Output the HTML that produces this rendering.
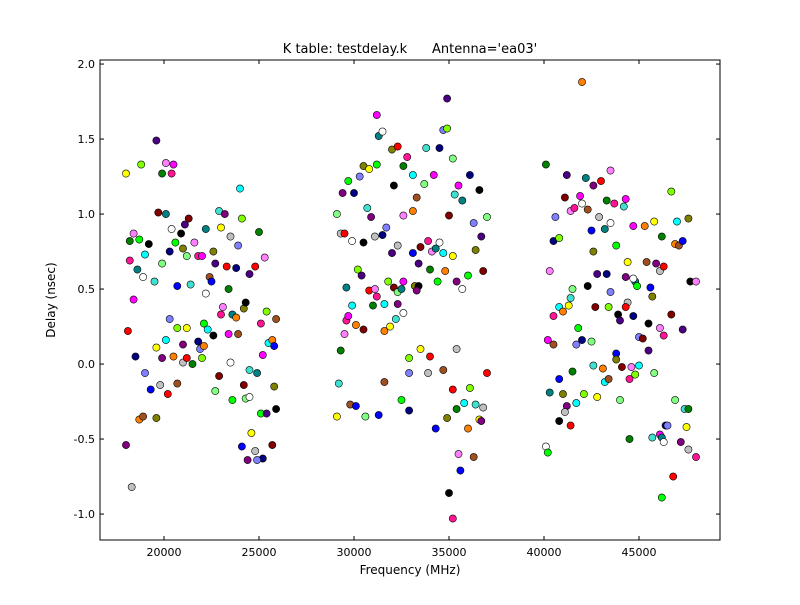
<!DOCTYPE html>
<html><head><meta charset="utf-8"><style>
body{margin:0;background:#fff;}
svg text{font-family:"DejaVu Sans","Liberation Sans",sans-serif;}
</style></head><body>
<svg id="chart" width="800" height="600" xmlns="http://www.w3.org/2000/svg">
<rect width="800" height="600" fill="#fff"/>
<text x="410" y="53" font-size="13" text-anchor="middle" xml:space="preserve">K table: testdelay.k      Antenna='ea03'</text>
<text x="410" y="574" font-size="12" text-anchor="middle">Frequency (MHz)</text>
<text x="55" y="300" font-size="12" text-anchor="middle" transform="rotate(-90 55 300)">Delay (nsec)</text>
<g id="points"></g>
<g id="axes"></g>
</svg>
<script>
const xTicks=[20000,25000,30000,35000,40000,45000];
const yTicks=[-1.0,-0.5,0.0,0.5,1.0,1.5,2.0];
const freqs=[18000,18000,18300,18100,18200,18400,18200,18400,18600,18900,18700,18500,19000,18800,19000,18700,18900,19300,19600,19200,19600,19700,19900,19500,19600,19900,19800,20200,19900,20100,20400,20500,20100,20400,20600,20300,20300,20700,20100,20500,20700,20700,21000,20900,21100,21300,21200,21400,21200,21000,21000,21200,21500,21600,21800,22000,22200,22200,22100,21800,21900,22000,22300,22100,22400,22500,22600,22600,22700,22900,22700,22900,23000,23200,23500,23300,23400,23100,23000,23400,23600,23500,23600,23800,23900,24100,24000,23800,23900,24100,24200,24300,24500,24200,24300,24500,24600,24400,24800,24800,25000,25300,25100,25200,24900,24500,25100,25200,24900,25400,25500,25700,25900,25800,25800,25900,25400,25700,
29100,29200,29100,29400,29300,29500,29300,29500,29600,29700,29600,29900,29700,30000,30300,30200,29900,30100,29800,30100,30500,30500,30400,30500,30600,30700,30800,30900,31100,30800,31000,31100,31200,31200,31300,31500,31200,31500,31700,31800,31600,31600,31600,31300,32000,32100,32000,32100,32300,32200,31900,32300,32300,32300,32600,32600,32800,32600,32500,32600,32500,32900,32900,32900,33100,33100,33300,33100,33200,33400,33400,33500,33700,33800,33500,33300,33900,34000,34000,34100,33900,34200,34300,34500,34400,34500,34700,34900,34700,34800,34700,34300,34900,35000,34900,35000,35200,35300,35200,35400,35400,35200,35400,35500,35200,35500,35700,35700,36000,36100,36300,36100,35800,36000,36300,35600,36400,36600,36700,36800,37000,36400,36600,36700,36800,37000,
40100,40300,40500,40200,40300,40100,40200,40500,40600,40800,40800,41000,40500,40800,41000,40800,41200,41100,41500,41400,41300,41200,41100,41400,41500,41400,41600,41900,42200,42000,41800,42000,41700,42100,41700,42000,42300,42500,42600,42300,42800,42700,42500,42600,42800,42600,42900,43000,43300,43500,43700,44300,43200,43500,43800,43300,43500,43400,43200,43100,43400,43800,43800,43900,44000,44100,44000,44200,44400,44300,44400,44300,44500,44600,44500,44700,44800,44700,44900,44700,45000,44800,45000,45300,45400,45600,45700,45500,45500,45200,45800,45700,45800,45900,46100,46300,46200,46100,46300,46100,46200,46300,46200,46400,46500,46700,47000,46900,47100,47300,47600,47700,47300,46700,46900,47400,47500,47200,47600,46800,47600,48000,48000];
const delays=[1.27,-0.54,-0.82,0.22,0.82,0.87,0.69,0.43,0.63,0.58,0.83,0.05,-0.06,1.33,0.73,-0.37,-0.35,-0.17,-0.36,0.80,1.49,1.01,0.67,0.55,0.11,0.04,-0.14,-0.20,1.27,1.34,1.27,1.33,1.00,0.90,0.81,0.75,0.30,0.24,0.16,0.05,-0.13,0.52,0.77,0.87,0.93,0.97,0.72,0.53,0.24,0.13,0.01,0.04,0.00,0.81,0.72,0.72,0.90,0.47,0.27,0.15,0.10,0.04,0.23,0.12,0.58,0.55,0.75,0.19,0.67,-0.08,-0.18,1.02,0.91,1.00,0.85,0.65,0.50,0.38,0.33,0.20,0.33,0.01,-0.24,0.64,0.79,0.97,1.17,0.31,0.20,-0.55,0.37,0.41,0.60,-0.14,-0.23,-0.04,-0.46,-0.64,-0.58,0.65,0.88,0.71,0.27,0.06,-0.06,-0.22,-0.33,-0.63,-0.64,0.35,0.14,0.16,0.30,0.12,-0.15,-0.30,-0.33,-0.54,
1.00,-0.13,-0.35,1.14,0.87,0.87,0.09,0.20,0.29,0.32,0.51,0.82,1.22,1.14,1.25,0.63,0.39,0.26,-0.27,-0.28,1.32,0.81,0.59,0.23,-0.35,1.04,1.30,0.98,0.85,0.49,0.39,0.50,0.45,1.66,1.52,1.55,1.33,0.86,0.91,0.55,0.40,0.22,-0.12,-0.34,1.43,1.19,0.74,0.51,0.48,0.30,0.25,0.40,0.79,1.45,1.32,0.99,1.38,0.55,0.50,0.34,-0.24,-0.31,-0.06,0.04,1.26,1.02,1.11,0.74,0.52,0.52,0.67,0.78,1.20,1.44,0.10,0.49,-0.06,0.05,0.63,0.75,0.82,1.26,0.77,0.81,0.55,1.44,1.56,1.57,0.74,0.62,-0.04,-0.43,-0.36,-0.86,1.77,0.99,1.37,1.13,0.72,0.55,0.10,-0.17,-0.30,-0.60,-1.03,1.19,1.09,0.50,0.59,1.26,0.94,-0.16,-0.26,-0.43,-0.62,-0.71,0.76,1.16,0.85,0.62,0.98,-0.27,-0.37,-0.38,-0.29,-0.06,
1.33,0.62,0.32,0.16,-0.19,-0.55,-0.59,0.82,0.98,0.84,0.38,0.35,0.13,-0.10,-0.20,-0.38,1.26,1.11,0.50,0.44,0.39,-0.28,-0.32,-0.41,-0.05,1.02,1.04,1.12,1.24,1.07,0.24,0.16,0.13,-0.20,-0.26,1.88,1.03,0.89,0.75,0.52,0.60,0.38,0.15,-0.01,-0.22,1.19,0.98,1.22,1.09,1.29,1.07,1.10,0.90,0.94,0.79,0.60,0.48,0.38,-0.12,-0.03,-0.10,0.07,0.03,0.33,0.29,-0.02,-0.24,1.05,0.68,0.58,0.41,0.38,-0.50,-0.02,-0.10,0.92,0.55,0.57,0.52,0.32,0.18,-0.07,-0.01,0.92,0.68,0.51,0.45,0.27,0.09,0.17,-0.06,-0.49,0.95,0.67,0.62,0.65,0.85,0.24,0.19,-0.47,-0.49,-0.52,-0.89,-0.41,-0.41,1.15,0.95,0.80,0.79,0.82,0.97,0.55,0.23,0.33,-0.24,-0.30,-0.42,-0.52,-0.57,-0.75,-0.30,0.55,-0.62];
const palette=["#ff0000","#00ff00","#0000ff","#ffff00","#ff00ff","#00ffff","#800000","#008000","#000080","#808000","#800080","#008080","#ff8000","#80ff80","#ff80ff","#8080ff","#000000","#c0c0c0","#ffffff","#a05020","#40e0d0","#ff1493","#7fff00","#4b0082"];
const L=100,R=720,T=60,B=540;
const xMin=16632,xMax=49263,yMin=-1.173,yMax=2.027;
const sx=v=>L+(v-xMin)/(xMax-xMin)*(R-L);
const sy=v=>B-(v-yMin)/(yMax-yMin)*(B-T);
const NS="http://www.w3.org/2000/svg";
const pg=document.getElementById('points');
for(let i=0;i<freqs.length;i++){
  const c=document.createElementNS(NS,'circle');
  c.setAttribute('cx',sx(freqs[i]));c.setAttribute('cy',sy(delays[i]));c.setAttribute('r',3.6);
  c.setAttribute('fill',palette[(i*7+3)%palette.length]);c.setAttribute('stroke','#000');c.setAttribute('stroke-width','0.6');
  
  
  pg.appendChild(c);
}
const ag=document.getElementById('axes');
function add(tag,attrs,text){const e=document.createElementNS(NS,tag);for(const k in attrs)e.setAttribute(k,attrs[k]);if(text!==undefined)e.textContent=text;ag.appendChild(e);return e;}
const frame=add('rect',{x:L,y:T,width:R-L,height:B-T,fill:'none',stroke:'#000','stroke-width':1});


xTicks.forEach(v=>{const x=sx(v);
  add('line',{x1:x,x2:x,y1:B,y2:B-4,stroke:'#000'});add('line',{x1:x,x2:x,y1:T,y2:T+4,stroke:'#000'});
  const t=add('text',{x:x,y:B+16,'font-size':11,'text-anchor':'middle'},String(v));
  
  
});
yTicks.forEach(v=>{const y=sy(v);
  add('line',{x1:L,x2:L+4,y1:y,y2:y,stroke:'#000'});add('line',{x1:R,x2:R-4,y1:y,y2:y,stroke:'#000'});
  const t=add('text',{x:L-5,y:y+4,'font-size':11,'text-anchor':'end'},v.toFixed(1));
  
  
});
</script>
</body></html>
